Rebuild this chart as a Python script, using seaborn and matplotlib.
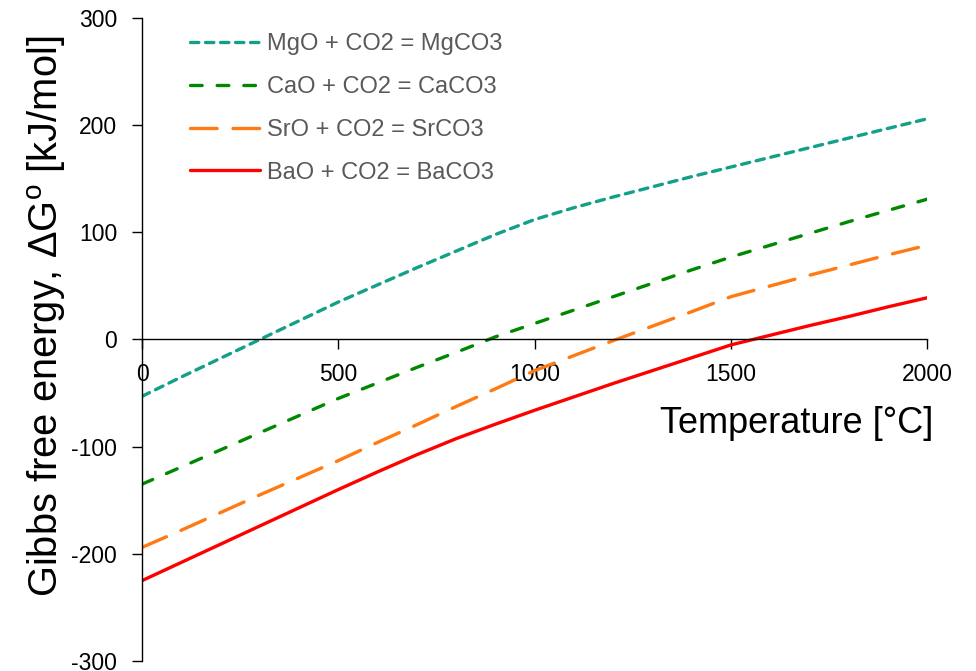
import matplotlib
matplotlib.use("Agg")
import matplotlib.pyplot as plt
import seaborn as sns
import pandas as pd

# Dados (ΔG° em kJ/mol a cada 100 °C)
temperatura = [0, 100, 200, 300, 400, 500, 600, 700, 800, 900, 1000,
               1100, 1200, 1300, 1400, 1500, 1600, 1700, 1800, 1900, 2000]
dg_mgo = [-53, -35, -17.5, 0, 17.5, 35, 51, 67, 82.5, 98, 112,
          123, 133, 142.5, 152, 161, 170, 179, 188, 197, 206]
dg_cao = [-135, -119, -103, -87, -71, -55, -40.5, -26, -12, 2.5, 15,
          27.5, 40, 52.5, 65, 77, 88, 99, 110, 120.5, 131]
dg_sro = [-194, -178, -161.5, -145, -129, -113, -96, -79.5, -62.5, -46, -29,
          -15, -1, 12.5, 26, 40, 50, 60, 69.5, 79, 88]
dg_bao = [-225, -208, -191, -174, -157, -140, -123.5, -107.5, -92.5, -79, -66,
          -53.5, -41, -29, -17, -5, 4, 13, 21.5, 30.5, 39]

reacoes = ["MgO + CO2 = MgCO3", "CaO + CO2 = CaCO3",
           "SrO + CO2 = SrCO3", "BaO + CO2 = BaCO3"]
x_ticks = [0, 500, 1000, 1500, 2000]
y_ticks = [-300, -200, -100, 0, 100, 200, 300]

cores = {reacoes[0]: "#13A088", reacoes[1]: "#008800",
         reacoes[2]: "#FF7A12", reacoes[3]: "#FF0000"}
tracos = {reacoes[0]: (2.5, 2.0), reacoes[1]: (3.5, 4.5),
          reacoes[2]: (8.0, 4.75), reacoes[3]: ""}

sns.set_style("white")
plt.rcParams['font.family'] = ['Liberation Sans', 'DejaVu Sans']
plt.rcParams['mathtext.fontset'] = 'custom'
plt.rcParams['mathtext.rm'] = 'Liberation Sans'
plt.rcParams['lines.dash_capstyle'] = 'round'
plt.rcParams['axes.unicode_minus'] = False

frames = []
for nome, valores in zip(reacoes, [dg_mgo, dg_cao, dg_sro, dg_bao]):
    frames.append(pd.DataFrame({'T': temperatura, 'dG': valores, 'Reação': nome}))
df = pd.concat(frames, ignore_index=True)

fig = plt.figure(figsize=(9.76, 6.71), dpi=100)
ax = fig.add_axes([0.1455, 0.0149, 0.8048, 0.9583])

sns.lineplot(data=df, x='T', y='dG', hue='Reação', style='Reação',
             hue_order=reacoes, style_order=reacoes, palette=cores,
             dashes=tracos, linewidth=2.4, ax=ax, legend=True)

ax.set_xlim(0, 2000)
ax.set_ylim(-300, 300)
ax.set_xticks(x_ticks)
ax.set_yticks(y_ticks)

# eixos estilo Excel: eixo x passando em y=0
for s in ['top', 'right']:
    ax.spines[s].set_visible(False)
ax.spines['bottom'].set_position(('data', 0))
for s in ['left', 'bottom']:
    ax.spines[s].set_color('black')
    ax.spines[s].set_linewidth(1.0)
ax.tick_params(axis='both', direction='out', length=7, width=1,
               color='black', labelcolor='black', labelsize=16.5,
               bottom=True, left=True)
ax.tick_params(axis='x', pad=10)
ax.tick_params(axis='y', pad=11)

ax.set_ylabel('Gibbs free energy, ΔG$^{\\mathrm{o}}$ [kJ/mol]', fontsize=28.7,
              color='black')
ax.yaxis.label.set_va('center')
ax.yaxis.set_label_coords(-0.1216, 0.5365)
ax.set_xlabel('Temperature [°C]', fontsize=26, loc='right', color='black')
ax.xaxis.label.set_va('center')
ax.xaxis.set_label_coords(1.007, 0.370)

handles, labels = ax.get_legend_handles_labels()
leg = ax.legend(handles, labels, loc='upper left', bbox_to_anchor=(0.061, 0.976),
                frameon=False, fontsize=17, handlelength=2.97, handletextpad=0.3,
                labelspacing=0.88, borderaxespad=0, borderpad=0)
for t in leg.get_texts():
    t.set_color('#595959')

fig.savefig('out.png', dpi=100)
plt.close(fig)
